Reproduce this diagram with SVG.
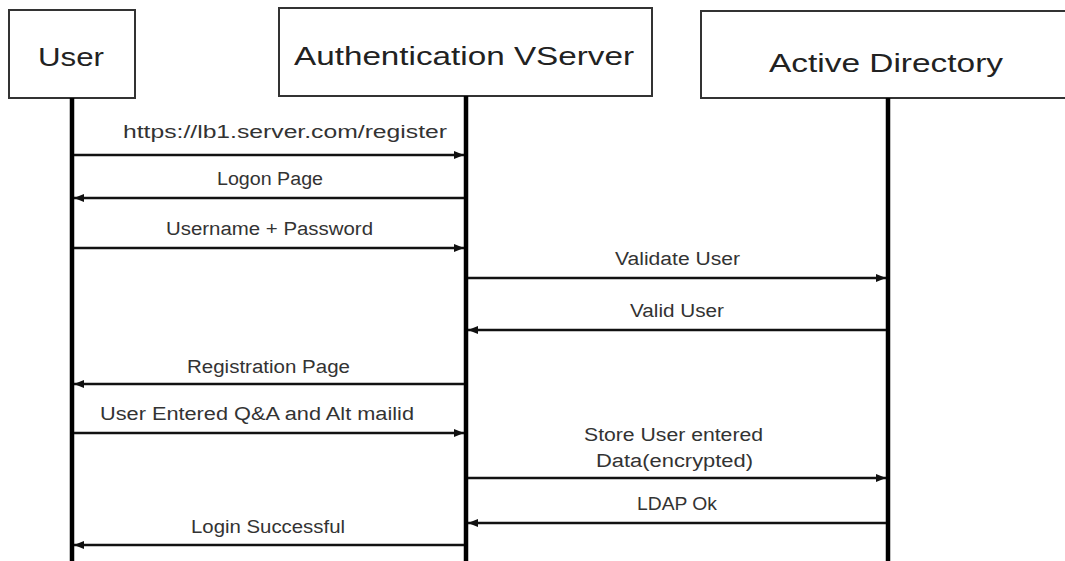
<svg xmlns="http://www.w3.org/2000/svg" width="1065" height="561" viewBox="0 0 1065 561">
<style>
.box{fill:#fff;stroke:#333;stroke-width:2}
.life{stroke:#000;stroke-width:4.5}
.msg{stroke:#111;stroke-width:2.6;fill:none;marker-end:url(#ah)}
.hd{font-family:"Liberation Sans",Arial,sans-serif;font-size:26px;fill:#222;text-anchor:middle}
.lb{font-family:"Liberation Sans",Arial,sans-serif;font-size:18px;fill:#333;text-anchor:middle}
</style>
<defs>
<marker id="ah" markerUnits="userSpaceOnUse" markerWidth="11" markerHeight="9" refX="10" refY="4.5" orient="auto">
<path d="M0,0.5 L10,4.5 L0,8.5 z" fill="#111"/>
</marker>
</defs>
<rect width="1065" height="561" fill="#fff"/>
<g id="user">
<rect class="box" x="9" y="10" width="126" height="88"/>
<text class="hd" x="71" y="66" textLength="66" lengthAdjust="spacingAndGlyphs">User</text>
<line class="life" x1="72" y1="98" x2="72" y2="561"/>
</g>
<g id="authvserver">
<rect class="box" x="279" y="8" width="373" height="88"/>
<text class="hd" x="464" y="65" textLength="340" lengthAdjust="spacingAndGlyphs">Authentication VServer</text>
<line class="life" x1="466" y1="96" x2="466" y2="561"/>
</g>
<g id="activedirectory">
<rect class="box" x="701" y="11" width="380" height="87"/>
<text class="hd" x="886" y="72" textLength="234" lengthAdjust="spacingAndGlyphs">Active Directory</text>
<line class="life" x1="888" y1="98" x2="888" y2="561"/>
</g>
<g id="connectors">
<line class="msg" x1="74" y1="155" x2="464" y2="155"/>
<text class="lb" x="285" y="138" textLength="324" lengthAdjust="spacingAndGlyphs">https://lb1.server.com/register</text>
<line class="msg" x1="464" y1="198" x2="74" y2="198"/>
<text class="lb" x="270" y="185" textLength="106" lengthAdjust="spacingAndGlyphs">Logon Page</text>
<line class="msg" x1="74" y1="248" x2="464" y2="248"/>
<text class="lb" x="269.5" y="235" textLength="207" lengthAdjust="spacingAndGlyphs">Username + Password</text>
<line class="msg" x1="468" y1="278" x2="886" y2="278"/>
<text class="lb" x="677.5" y="265" textLength="125" lengthAdjust="spacingAndGlyphs">Validate User</text>
<line class="msg" x1="886" y1="330" x2="468" y2="330"/>
<text class="lb" x="677" y="317" textLength="94" lengthAdjust="spacingAndGlyphs">Valid User</text>
<line class="msg" x1="464" y1="384" x2="74" y2="384"/>
<text class="lb" x="268.5" y="373" textLength="163" lengthAdjust="spacingAndGlyphs">Registration Page</text>
<line class="msg" x1="74" y1="433" x2="464" y2="433"/>
<text class="lb" x="257" y="420" textLength="314" lengthAdjust="spacingAndGlyphs">User Entered Q&amp;A and Alt mailid</text>
<line class="msg" x1="468" y1="478" x2="886" y2="478"/>
<text class="lb" x="673.5" y="441" textLength="179" lengthAdjust="spacingAndGlyphs">Store User entered</text>
<text class="lb" x="674.5" y="467" textLength="157" lengthAdjust="spacingAndGlyphs">Data(encrypted)</text>
<line class="msg" x1="886" y1="523" x2="468" y2="523"/>
<text class="lb" x="677" y="510" textLength="80" lengthAdjust="spacingAndGlyphs">LDAP Ok</text>
<line class="msg" x1="464" y1="545" x2="74" y2="545"/>
<text class="lb" x="268" y="533" textLength="154" lengthAdjust="spacingAndGlyphs">Login Successful</text>
</g>
</svg>
